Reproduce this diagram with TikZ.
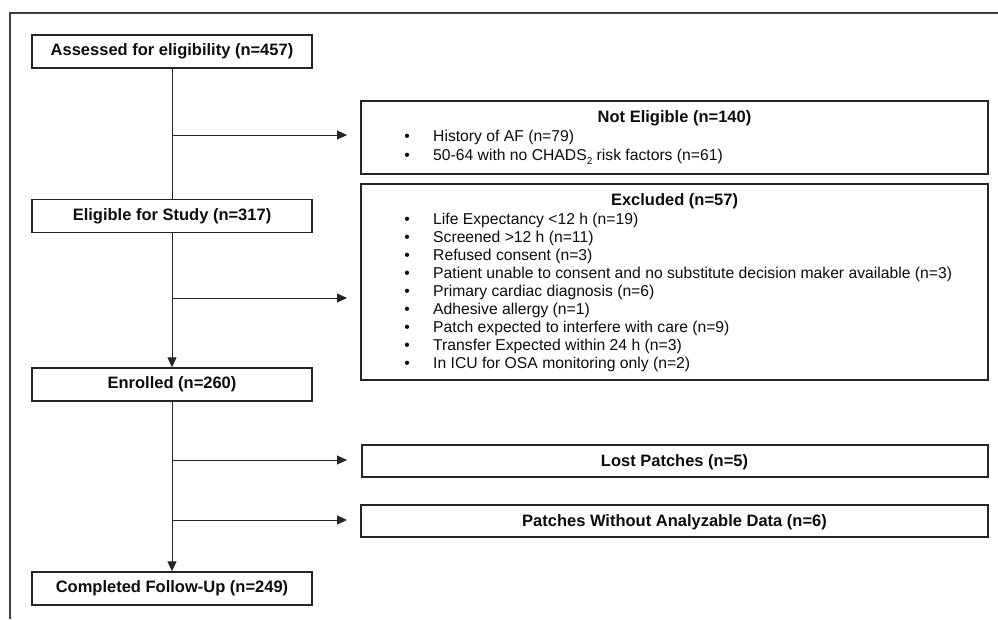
\documentclass[tikz,border=0pt]{standalone}
\usepackage{fontspec}
\setmainfont{Liberation Sans}
\usetikzlibrary{arrows.meta}
\tikzset{
  x=1pt, y=-1pt,
  box/.style={draw=black!85, line width=1.4pt, rectangle, inner sep=0pt, fill=white},
  leftbox/.style={box, minimum width=280, minimum height=33, font=\fontsize{16.5}{18}\selectfont\bfseries, text=black!95},
  head/.style={inner sep=0pt, anchor=base, font=\fontsize{16.5}{18}\selectfont\bfseries, text=black!95},
  item/.style={inner sep=0pt, anchor=base west, font=\fontsize{15.7}{18}\selectfont, text=black!95},
  bul/.style={inner sep=0pt, anchor=base, font=\fontsize{15.7}{18}\selectfont, text=black!95},
  conn/.style={draw=black!85, line width=1pt},
  arr/.style={conn, -{Triangle[length=10pt,width=9pt]}},
  frame/.style={draw=black!75, line width=1.3pt}
}
\begin{document}
\begin{tikzpicture}
\useasboundingbox (0,0) rectangle (998,619);
% outer frame (partially visible)
\draw[frame] (10,619) -- (10,13) -- (998,13);

% left column
\node[leftbox] (a) at (172,51.5) {Assessed for eligibility (n=457)};
\node[leftbox] (b) at (172,216) {Eligible for Study (n=317)};
\node[leftbox] (c) at (172,384.5) {Enrolled (n=260)};
\node[leftbox] (d) at (172,588.5) {Completed Follow-Up (n=249)};

% right boxes
\node[box, minimum width=627, minimum height=73] (ne) at (674.5,137.5) {};
\node[box, minimum width=627, minimum height=196] (ex) at (674.5,282) {};
\node[box, minimum width=626, minimum height=32] (lp) at (675,461) {};
\node[box, minimum width=627, minimum height=32] (pw) at (674.5,521) {};

% texts in Not Eligible
\node[head] (neh) at (674.5,122.5) {Not Eligible (n=140)};
\node[bul] (neb1) at (407,141.5) {\textbullet};
\node[item] (nei1) at (433,141.5) {History of AF (n=79)};
\node[bul] (neb2) at (407,160.5) {\textbullet};
\node[item] (nei2) at (433,160.5) {50-64 with no CHADS\raisebox{-4pt}{\fontsize{10}{10}\selectfont 2} risk factors (n=61)};

% texts in Excluded
\node[head] (exh) at (674.5,205) {Excluded (n=57)};
\foreach \t [count=\i from 0] in {
  Life Expectancy <12 h (n=19),
  Screened >12 h (n=11),
  Refused consent (n=3),
  Patient unable to consent and no substitute decision maker available (n=3),
  Primary cardiac diagnosis (n=6),
  Adhesive allergy (n=1),
  Patch expected to interfere with care (n=9),
  Transfer Expected within 24 h (n=3),
  In ICU for OSA monitoring only (n=2)}{
  \node[bul] (exb\i) at (407,224.5+18*\i) {\textbullet};
  \node[item] (exi\i) at (433,224.5+18*\i) {\t};
}

\node[head] (lph) at (674.5,466.5) {Lost Patches (n=5)};
\node[head] (pwh) at (674.5,526.5) {Patches Without Analyzable Data (n=6)};

% trunk connectors
\draw[conn] (a.south) -- (b.north);
\draw[arr] (b.south) -- (c.north);
\draw[arr] (c.south) -- (d.north);

% side arrows
\coordinate (j1) at (172,135);  \coordinate (t1) at (347,135);
\coordinate (j2) at (172,298);  \coordinate (t2) at (347,298);
\coordinate (j3) at (172,460);  \coordinate (t3) at (347,460);
\coordinate (j4) at (172,520);  \coordinate (t4) at (347,520);
\draw[arr] (j1) -- (t1);
\draw[arr] (j2) -- (t2);
\draw[arr] (j3) -- (t3);
\draw[arr] (j4) -- (t4);
\end{tikzpicture}
\end{document}
